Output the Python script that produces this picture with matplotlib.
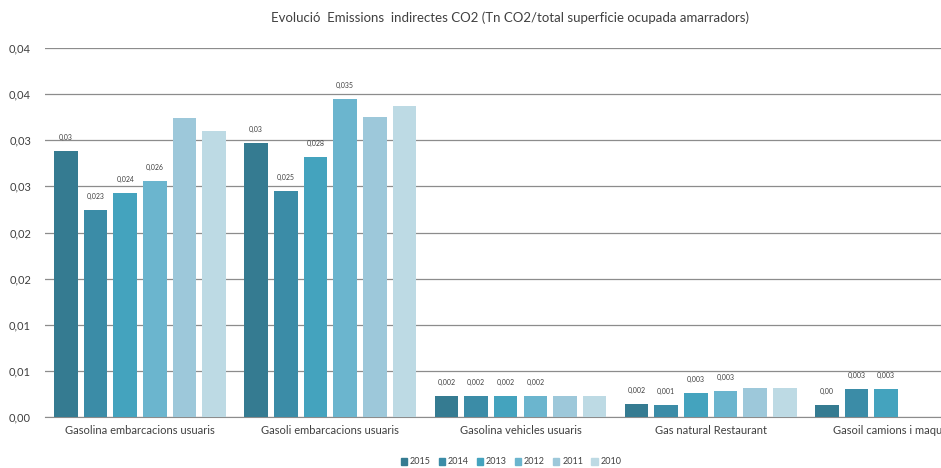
import numpy as np
from matplotlib import pyplot as plt
from matplotlib.patches import Patch

# categories and values
categories = ['Gasolina embarcacions usuaris', 'Gasoli embarcacions usuaris',
              'Gasolina vehicles usuaris', 'Gas natural Restaurant',
              'Gasoil camions i maquinària']
years = ['2015', '2014', '2013', '2012', '2011', '2010']
values = {
    '2015': [0.0288, 0.0297, 0.0023, 0.0014, 0.0013],
    '2014': [0.0224, 0.0245, 0.0023, 0.0013, 0.0030],
    '2013': [0.0243, 0.0282, 0.0023, 0.0026, 0.0030],
    '2012': [0.0256, 0.0345, 0.0023, 0.0028, None],
    '2011': [0.0324, 0.0325, 0.0023, 0.0031, None],
    '2010': [0.0310, 0.0337, 0.0023, 0.0031, None],
}
bar_labels = {
    '2015': ['0,03', '0,03', '0,002', '0,002', '0,00'],
    '2014': ['0,023', '0,025', '0,002', '0,001', '0,003'],
    '2013': ['0,024', '0,028', '0,002', '0,003', '0,003'],
    '2012': ['0,026', '0,035', '0,002', '0,003', ''],
}
y_ticks = [0, 0.005, 0.01, 0.015, 0.02, 0.025, 0.03, 0.035, 0.04]
y_tick_labels = ['0,00', '0,01', '0,01', '0,02', '0,02', '0,03', '0,03', '0,04', '0,04']

colors = ['#357b91', '#3b8ca7', '#44a3be', '#6bb5ce', '#9dc8da', '#bddae4']

plt.rcParams['font.family'] = ['Lato', 'DejaVu Sans']
txt = '#404040'

fig = plt.figure(figsize=(9.41, 4.68), dpi=100)
# the right part of the chart is cut off by the picture edge, as in the original
ax = fig.add_axes([45 / 941, 51 / 468, 951 / 941, 369 / 468])

x = np.arange(len(categories))
step = 0.156
width = 0.124
for k, yr in enumerate(years):
    xs = [x[i] + (k - 2.5) * step for i in range(len(categories)) if values[yr][i] is not None]
    ys = [v for v in values[yr] if v is not None]
    ax.bar(xs, ys, width=width, color=colors[k], zorder=3)
    if yr in bar_labels:
        for xi, yi, lab in zip(xs, ys, bar_labels[yr]):
            if lab:
                ax.annotate(lab, (xi, yi), xytext=(0, 10), textcoords='offset pixels',
                            ha='center', va='bottom', fontsize=5, color=txt)

ax.set_xlim(-0.5, 4.5)
ax.set_ylim(0, 0.04)
ax.set_yticks(y_ticks)
ax.set_yticklabels(y_tick_labels)
ax.set_xticks(x)
ax.set_xticklabels(categories)
ax.tick_params(axis='both', length=0, colors=txt, labelsize=8)
ax.tick_params(axis='y', pad=10)
ax.tick_params(axis='x', pad=6)
ax.grid(axis='y', color='#8c8c8c', linewidth=0.9, zorder=0)
for s in ['top', 'right', 'left']:
    ax.spines[s].set_visible(False)
ax.spines['bottom'].set_color('#8c8c8c')

fig.text(510 / 941, 1 - 18 / 468, 'Evolució  Emissions  indirectes CO2 (Tn CO2/total superficie ocupada amarradors)',
         ha='center', va='center', fontsize=9.5, color=txt)

handles = [Patch(color=c) for c in colors]
fig.legend(handles, years, loc='center', bbox_to_anchor=(511 / 941, 6 / 468), ncol=6,
           frameon=False, fontsize=6.5, handlelength=0.7, handleheight=0.7,
           handletextpad=0.3, columnspacing=0.9, labelcolor=txt)

fig.savefig('out.png', dpi=100)
